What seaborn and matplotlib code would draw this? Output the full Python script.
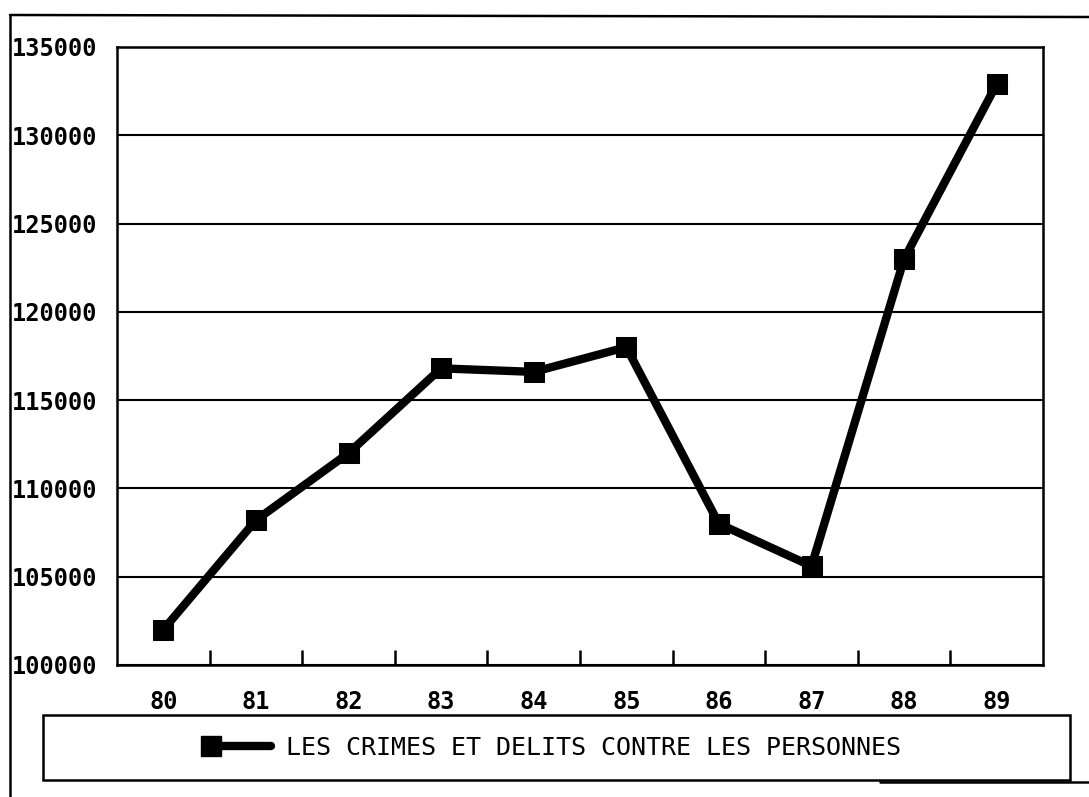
import numpy as np
import pandas as pd
import seaborn as sns
import matplotlib.pyplot as plt
from matplotlib.lines import Line2D
from matplotlib.patches import Rectangle
from matplotlib.ticker import FixedLocator
from matplotlib.legend_handler import HandlerLine2D

annees = ["80", "81", "82", "83", "84", "85", "86", "87", "88", "89"]
crimes = [102000, 108200, 112000, 116800, 116600, 118000, 108000, 105600, 123000, 132900]
yticks = [100000, 105000, 110000, 115000, 120000, 125000, 130000, 135000]
serie = "LES CRIMES ET DELITS CONTRE LES PERSONNES"

df = pd.DataFrame({"annee": annees, "valeur": crimes})

sns.set_style("white")
plt.rcParams["font.family"] = ["DejaVu Sans Mono", "DejaVu Sans"]
plt.rcParams["text.color"] = "black"
plt.rcParams["xtick.color"] = "black"
plt.rcParams["ytick.color"] = "black"


class MarqueurAGauche(HandlerLine2D):
    # marqueur au debut du trait, comme sur l'original
    def create_artists(self, *args, **kwargs):
        artists = super().create_artists(*args, **kwargs)
        for a in artists:
            a.set_markevery([0])
        return artists


fig = plt.figure(figsize=(10.89, 7.97), dpi=100)
ax = fig.add_axes([117 / 1089, 132 / 797, 926 / 1089, 618 / 797])

sns.lineplot(data=df, x="annee", y="valeur", ax=ax, color="black",
             linewidth=6, marker="s", markersize=14, markeredgecolor="black",
             legend=False)

ax.set_xlim(-0.5, len(annees) - 0.5)
ax.set_ylim(yticks[0], yticks[-1])
ax.set_yticks(yticks)
ax.set_yticklabels([str(v) for v in yticks], fontsize=17, fontweight="bold")
ax.set_xticks(range(len(annees)))
ax.set_xticklabels(annees, fontsize=17, fontweight="bold")
ax.xaxis.set_minor_locator(FixedLocator(np.arange(0.5, len(annees) - 1, 1.0)))
ax.tick_params(axis="x", which="major", length=0, pad=18)
ax.tick_params(axis="x", which="minor", bottom=True, direction="in",
               length=11, width=1.8, color="black")
ax.tick_params(axis="y", length=0, pad=14)
ax.yaxis.grid(True, color="black", linewidth=1.5)
ax.set_axisbelow(True)
for s in ax.spines.values():
    s.set_color("black")
    s.set_linewidth(1.8)
ax.set_xlabel("")
ax.set_ylabel("")

# cadre de la legende
fig.patches.append(Rectangle((43 / 1089, 17 / 797), 1027 / 1089, 65 / 797,
                             transform=fig.transFigure, fill=False,
                             edgecolor="black", linewidth=1.8))
handle = Line2D([], [], color="black", linewidth=6, marker="s", markersize=14)
fig.legend([handle], [serie], loc="center", bbox_to_anchor=(556 / 1089, 49 / 797),
           frameon=False, fontsize=18, handlelength=2.4, handletextpad=0.6,
           handler_map={Line2D: MarqueurAGauche(numpoints=1)})

# cadre exterieur
fig.add_artist(Line2D([10 / 1089, 10 / 1089], [0, 782 / 797], transform=fig.transFigure,
                      color="black", linewidth=1.8))
fig.add_artist(Line2D([10 / 1089, 1], [782 / 797, 780 / 797], transform=fig.transFigure,
                      color="black", linewidth=1.8))
fig.add_artist(Line2D([880 / 1089, 1], [15 / 797, 15 / 797], transform=fig.transFigure,
                      color="black", linewidth=1.8))

fig.savefig("out.png", dpi=100)
